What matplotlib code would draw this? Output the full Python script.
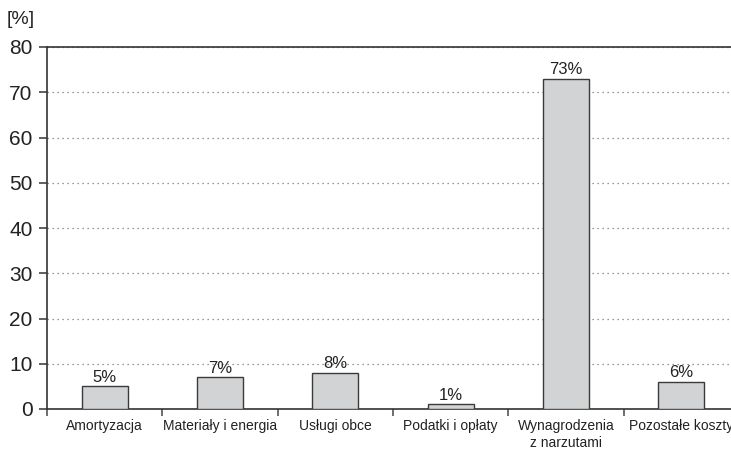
import numpy as np
import matplotlib
matplotlib.use("Agg")
import matplotlib.pyplot as plt

plt.rcParams['font.family'] = ['Liberation Sans', 'DejaVu Sans']

# struktura kosztów
kategorie = ["Amortyzacja", "Materiały i energia", "Usługi obce",
             "Podatki i opłaty", "Wynagrodzenia\nz narzutami", "Pozostałe koszty"]
udzial = [5, 7, 8, 1, 73, 6]
y_ticks = [0, 10, 20, 30, 40, 50, 60, 70, 80]

fig = plt.figure(figsize=(7.31, 4.49), dpi=100)
# oś szersza niż obrazek - prawa krawędź obcięta
ax = fig.add_axes([47 / 731, 1 - 409 / 449, 692 / 731, 362 / 449])

x = np.arange(len(kategorie))
ax.bar(x, udzial, width=0.4, color="#d2d3d5", edgecolor="#3a3a3a", linewidth=1.0, zorder=3)

for xi, v in zip(x, udzial):
    ax.text(xi, v + 0.4, f"{v}%", ha="center", va="bottom", fontsize=12, color="#222222")

ax.set_xlim(-0.5, len(kategorie) - 0.5)
ax.set_ylim(0, 80)
ax.set_yticks(y_ticks)
ax.tick_params(axis="y", labelsize=15, length=6, width=1.2, color="#444444",
               labelcolor="#222222", pad=4.5)

# etykiety kategorii w środku, kreski na granicach
ax.set_xticks(x)
ax.set_xticklabels(kategorie, fontsize=10, color="#222222", linespacing=1.3)
ax.tick_params(axis="x", which="major", length=0, pad=7)
ax.set_xticks(np.arange(len(kategorie) + 1) - 0.5, minor=True)
ax.tick_params(axis="x", which="minor", length=5, width=1.2, color="#555555")

ax.grid(axis="y", linestyle=(0, (1, 3)), color="#777777", linewidth=0.9, zorder=0)

for s in ["left", "bottom", "top"]:
    ax.spines[s].set_color("#333333")
    ax.spines[s].set_linewidth(1.2)
ax.spines["right"].set_visible(False)

fig.text(7 / 731, 1 - 20 / 449, "[%]", fontsize=14, color="#222222", va="center")

fig.savefig("out.png", dpi=100)
